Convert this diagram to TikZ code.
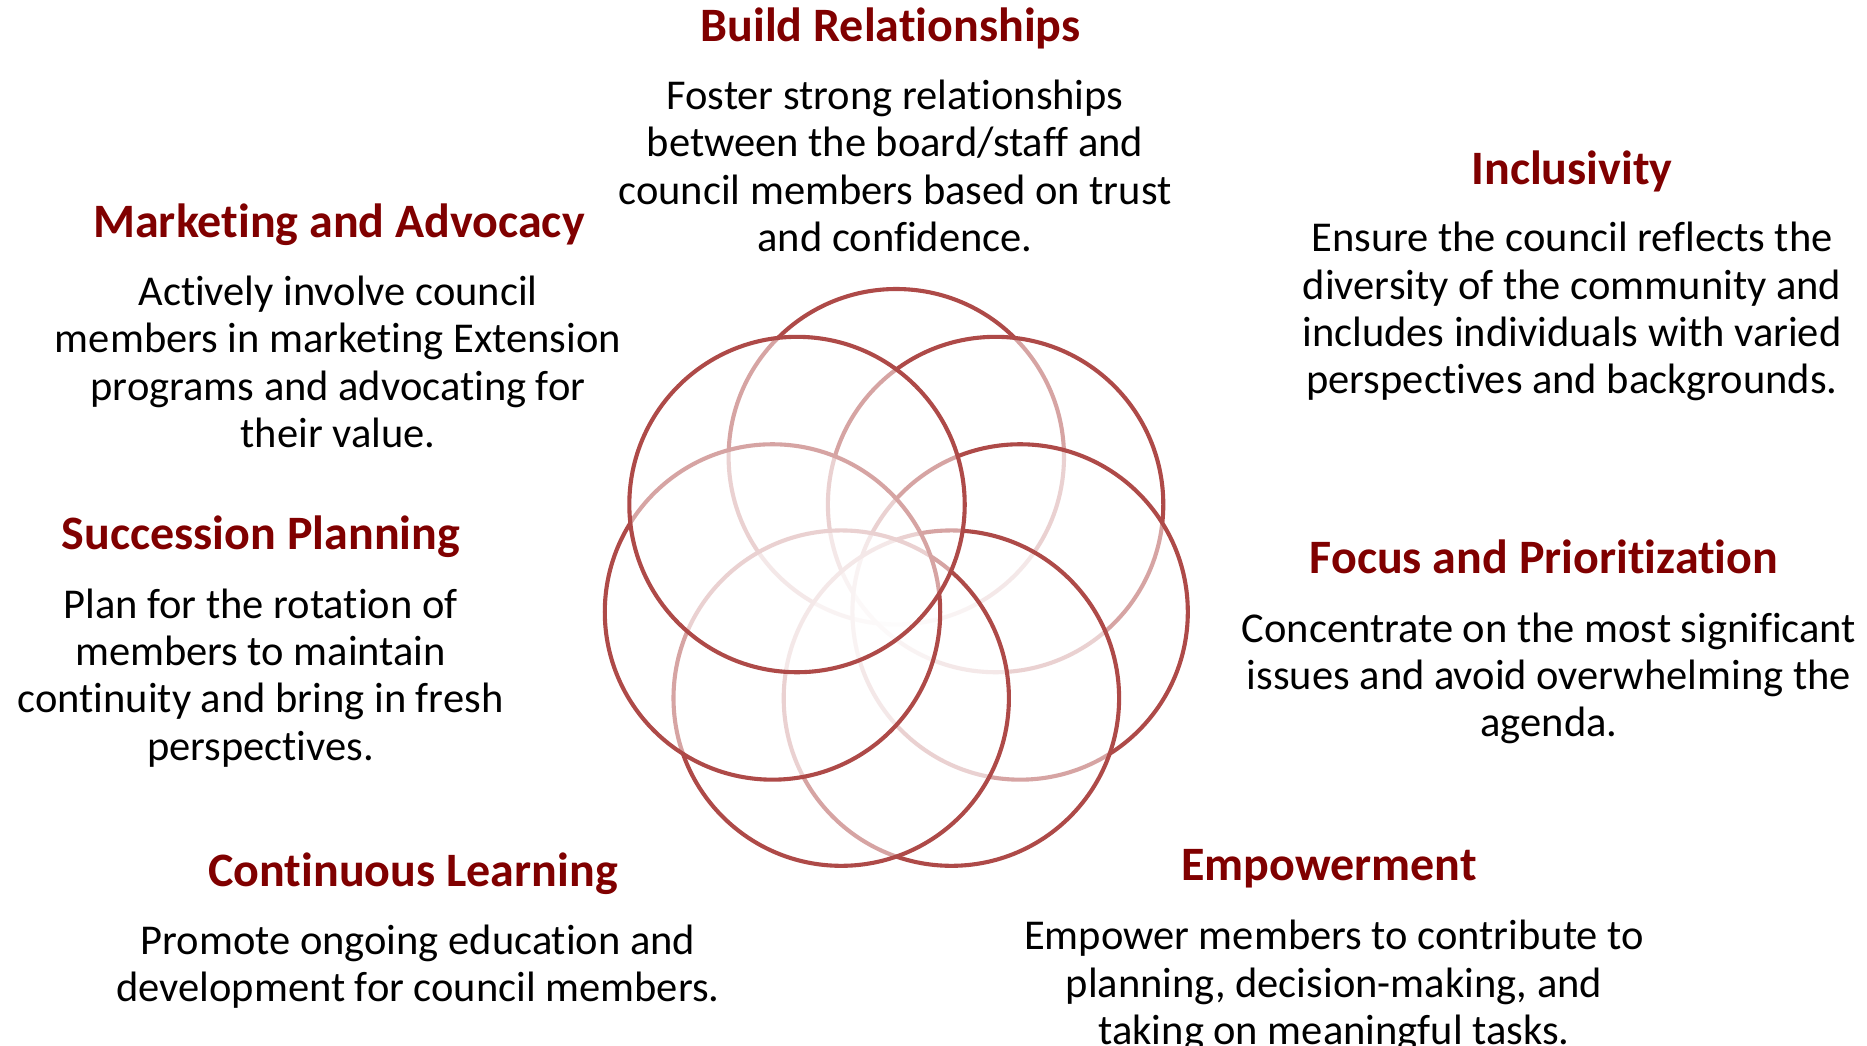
\documentclass[tikz,border=0pt]{standalone}
\usepackage{fontspec}
\setmainfont{Carlito}[Ligatures={NoCommon}]
\usetikzlibrary{calc}
\definecolor{ttl}{RGB}{128,0,0}
\definecolor{ring}{RGB}{174,74,72}
\begin{document}
\begin{tikzpicture}[x=1pt,y=-1pt,
  ttlstyle/.style={font=\bfseries\fontsize{48}{54}\selectfont, text=ttl, inner sep=0pt, anchor=center},
  bodystyle/.style={font=\fontsize{42.5}{47.3}\selectfont, text=black, align=center, inner sep=0pt, anchor=center},
  ringstyle/.style={circle, draw=ring, line width=4.1pt, fill=white, fill opacity=0.5, draw opacity=1, inner sep=0pt, minimum size=335.4pt}]
\useasboundingbox (0,0) rectangle (1867,1045);
\coordinate (fc) at (896.3,583.7);
% seven rings, drawn clockwise from the top one
\foreach \k in {0,...,6}{
  \pgfmathsetmacro{\ang}{-90+\k*360/7}
  \node[ringstyle] (c\k) at ($(fc)+(\ang:127)$) {};
}
% Build Relationships
\node[ttlstyle] (t1) at (890.5,28.5) {Build Relationships};
\node[bodystyle] (b1) at (895,166) {Foster strong relationships\\between the board/staff and\\council members based on trust\\and confidence.};
% Inclusivity
\node[ttlstyle] (t2) at (1572,171.5) {Inclusivity};
\node[bodystyle] (b2) at (1572,311.6) {Ensure the council reflects the\\diversity of the community and\\includes individuals with varied\\perspectives and backgrounds.};
% Marketing and Advocacy
\node[ttlstyle] (t3) at (339,225) {Marketing and Advocacy};
\node[bodystyle] (b3) at (338,362) {Actively involve council\\members in marketing Extension\\programs and advocating for\\their value.};
% Succession Planning
\node[ttlstyle] (t4) at (261,536.5) {Succession Planning};
\node[bodystyle] (b4) at (260.5,678) {Plan for the rotation of\\members to maintain\\continuity and bring in fresh\\perspectives.};
% Focus and Prioritization
\node[ttlstyle] (t5) at (1544,557) {Focus and Prioritization};
\node[bodystyle] (b5) at (1549,678.2) {Concentrate on the most significant\\issues and avoid overwhelming the\\agenda.};
% Continuous Learning
\node[ttlstyle] (t6) at (413,873.5) {Continuous Learning};
\node[bodystyle] (b6) at (418,966.6) {Promote ongoing education and\\development for council members.};
% Empowerment
\node[ttlstyle] (t7) at (1329,868.5) {Empowerment};
\node[bodystyle] (b7) at (1334,986) {Empower members to contribute to\\planning, decision-making, and\\taking on meaningful tasks.};
\end{tikzpicture}
\end{document}
